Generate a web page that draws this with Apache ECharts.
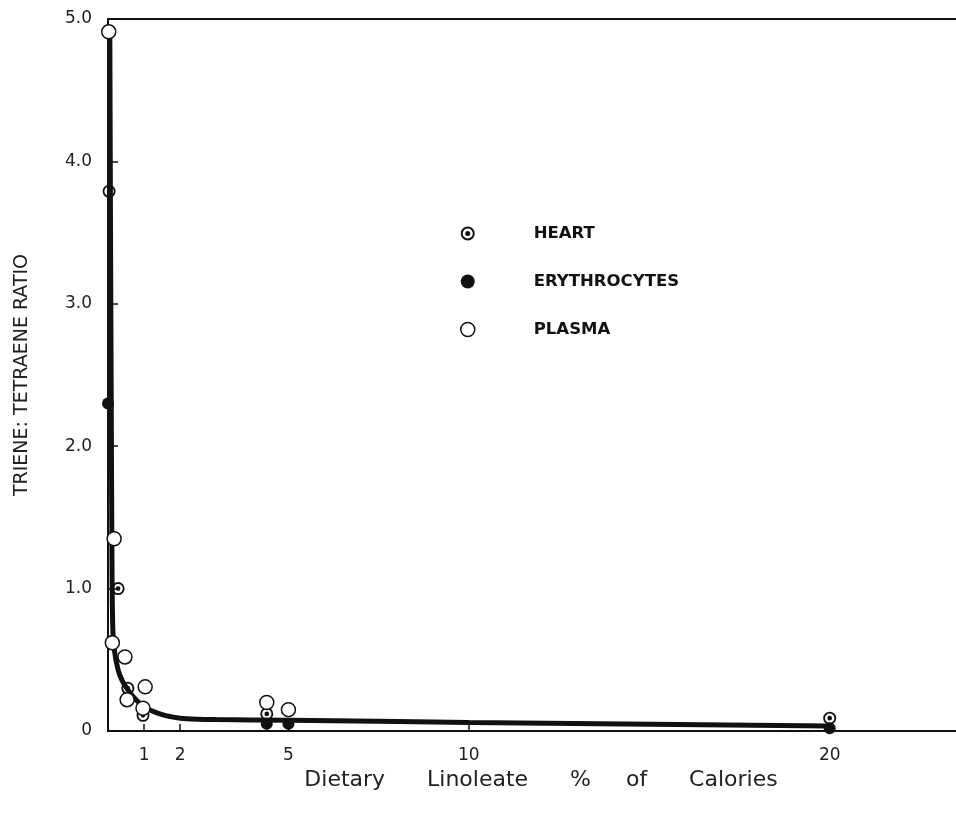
<!DOCTYPE html>
<html>
<head>
<meta charset="utf-8">
<script src="https://cdn.jsdelivr.net/npm/echarts@6/dist/echarts.min.js"></script>
<style>
html,body{margin:0;padding:0;background:#fff;}
#chart{width:956px;height:815px;}
</style>
</head>
<body>
<div id="chart"></div>
<script>
// ---- data ----
var heartX = [0.03, 0.28, 0.55, 0.97, 4.4, 20];
var heartY = [3.79, 1.0, 0.30, 0.11, 0.12, 0.09];

var erythroX = [0.0, 4.4, 5.0, 20];
var erythroY = [2.30, 0.05, 0.05, 0.02];

var plasmaX = [0.02, 0.17, 0.12, 0.47, 0.53, 1.03, 0.97, 4.4, 5.0];
var plasmaY = [4.91, 1.35, 0.62, 0.52, 0.22, 0.31, 0.16, 0.20, 0.15];

var curveX = [0.05, 0.07, 0.09, 0.11, 0.13, 0.17, 0.28, 0.4, 0.55, 0.7, 1.0, 1.5, 2.0, 2.5, 3, 5, 10, 20];
var curveY = [4.95, 3.5, 2.3, 1.2, 0.75, 0.58, 0.43, 0.35, 0.29, 0.24, 0.17, 0.115, 0.09, 0.082, 0.08, 0.076, 0.06, 0.035];

var xTickValues = [1, 2, 5, 10, 20];
var yTickValues = [0, 1, 2, 3, 4, 5];

function pairs(xs, ys) { return xs.map(function (x, i) { return [x, ys[i]]; }); }

var heartPath = 'path://M0,-10A10,10 0 1,1 0,10A10,10 0 1,1 0,-10ZM0,-7.2A7.2,7.2 0 1,0 0,7.2A7.2,7.2 0 1,0 0,-7.2ZM0,-3.6A3.6,3.6 0 1,1 0,3.6A3.6,3.6 0 1,1 0,-3.6Z';

var font = 'DejaVu Sans';
var chart = echarts.init(document.getElementById('chart'));
chart.setOption({
  animation: false,
  backgroundColor: '#fff',
  grid: { left: 108, top: 19, right: 0, bottom: 84 },
  legend: {
    orient: 'vertical',
    left: 455,
    top: 220,
    itemWidth: 14,
    itemHeight: 14,
    itemGap: 31,
    textStyle: { fontFamily: font, fontSize: 16.5, lineHeight: 14, fontWeight: 'bold', color: '#111', padding: [0, 0, 0, 54] },
    data: [
      { name: 'HEART', icon: heartPath, itemStyle: { color: '#111', borderWidth: 0 } },
      { name: 'ERYTHROCYTES', icon: 'circle', itemStyle: { color: '#111', borderWidth: 0 } },
      { name: 'PLASMA', icon: 'circle', itemStyle: { color: '#fff', borderColor: '#111', borderWidth: 1.5 } }
    ]
  },
  xAxis: [{
    type: 'value',
    min: 0, max: 23.5,
    name: 'Dietary      Linoleate      %     of      Calories',
    nameLocation: 'middle',
    nameGap: 37,
    nameTextStyle: { fontFamily: font, fontSize: 22, color: '#222', padding: [0, 0, 0, 18] },
    axisLine: { show: true, onZero: false, lineStyle: { color: '#111', width: 2 } },
    axisTick: { show: true, inside: true, length: 7, customValues: xTickValues, lineStyle: { color: '#111', width: 1.5 } },
    axisLabel: { customValues: xTickValues, margin: 16, fontFamily: font, fontSize: 17, color: '#222' },
    splitLine: { show: false }
  }, {
    type: 'value',
    position: 'top',
    min: 0, max: 23.5,
    axisLine: { show: true, onZero: false, lineStyle: { color: '#111', width: 2 } },
    axisTick: { show: false },
    axisLabel: { show: false },
    splitLine: { show: false }
  }],
  yAxis: {
    type: 'value',
    min: 0, max: 5,
    name: 'TRIENE: TETRAENE RATIO',
    nameLocation: 'middle',
    nameGap: 76,
    nameTextStyle: { fontFamily: font, fontSize: 19, color: '#222' },
    axisLine: { show: true, onZero: false, lineStyle: { color: '#111', width: 2 } },
    axisTick: { show: true, inside: true, length: 10, customValues: yTickValues, lineStyle: { color: '#111', width: 1.5 } },
    axisLabel: {
      customValues: yTickValues, margin: 16, fontFamily: font, fontSize: 17, color: '#222',
      formatter: function (v) { return v === 0 ? '0' : v.toFixed(1); }
    },
    splitLine: { show: false }
  },
  series: [
    {
      name: 'curve', type: 'line', data: pairs(curveX, curveY),
      smooth: 0.3, symbol: 'none', clip: false,
      lineStyle: { color: '#111', width: 5 }, z: 2
    },
    {
      name: 'ERYTHROCYTES', type: 'scatter', data: pairs(erythroX, erythroY),
      symbol: 'circle', symbolSize: 12, clip: false,
      itemStyle: { color: '#111', opacity: 1 }, z: 3
    },
    {
      name: 'HEART', type: 'scatter', data: pairs(heartX, heartY),
      symbol: heartPath, symbolSize: 13, clip: false,
      itemStyle: { color: '#111', opacity: 1 }, z: 4
    },
    {
      name: 'PLASMA', type: 'scatter', data: pairs(plasmaX, plasmaY),
      symbol: 'circle', symbolSize: 14, clip: false,
      itemStyle: { color: '#fff', borderColor: '#111', borderWidth: 1.5, opacity: 1 }, z: 5
    }
  ]
});
</script>
</body>
</html>
